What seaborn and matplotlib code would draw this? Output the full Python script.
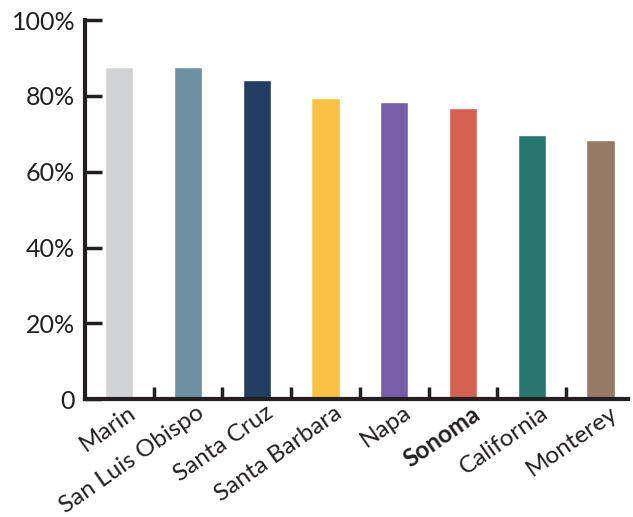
import pandas as pd
import seaborn as sns
import matplotlib.pyplot as plt

# values
counties = ['Marin', 'San Luis Obispo', 'Santa Cruz', 'Santa Barbara',
            'Napa', 'Sonoma', 'California', 'Monterey']
shares = [87.7, 87.7, 84.3, 79.5, 78.5, 76.9, 69.8, 68.4]
bar_colors = ['#d1d3d4', '#6d8fa2', '#233d64', '#fbc147',
              '#765ea8', '#d66150', '#287670', '#967a65']
y_ticks = [0, 20, 40, 60, 80, 100]
y_labels = ['0', '20%', '40%', '60%', '80%', '100%']

sns.set_style('white')
plt.rcParams['font.family'] = ['Lato', 'DejaVu Sans']

data = pd.DataFrame({'county': counties, 'share': shares})

fig, ax = plt.subplots(figsize=(6.33, 5.17), dpi=100)
sns.barplot(data=data, x='county', y='share', hue='county',
            palette=bar_colors, width=0.41, legend=False, ax=ax,
            saturation=1)

ax.set_xlim(-0.5, 7.4)
ax.set_ylim(0, 100)
ax.set_xlabel('')
ax.set_ylabel('')

# ticks sit between the bars on the x axis, labels a bit right of centre
ax.set_xticks([i + 0.5 for i in range(len(counties) - 1)])
ax.set_xticklabels([])
ax.set_xticks([i + 0.12 for i in range(len(counties))], minor=True)
ax.set_xticklabels(counties, minor=True, rotation=35, ha='right',
                   rotation_mode='anchor', fontsize=17.5, color='#231f20')
for lab in ax.get_xticklabels(minor=True):
    if lab.get_text() == 'Sonoma':
        lab.set_fontweight('bold')
ax.tick_params(axis='x', which='minor', bottom=True, length=0, pad=2)
ax.tick_params(axis='x', which='major', bottom=True, direction='in',
               length=9, width=2.5, color='#231f20')

ax.set_yticks(y_ticks)
ax.set_yticklabels(y_labels, fontsize=18, color='#231f20')
ax.tick_params(axis='y', left=True, direction='in', length=12, width=2.5,
               color='#231f20', pad=7)

sns.despine(ax=ax)
for side in ['left', 'bottom']:
    ax.spines[side].set_linewidth(3)
    ax.spines[side].set_color('#231f20')

plt.subplots_adjust(left=0.134, right=0.992, top=0.961, bottom=0.228)
plt.savefig('out.png', dpi=100)
